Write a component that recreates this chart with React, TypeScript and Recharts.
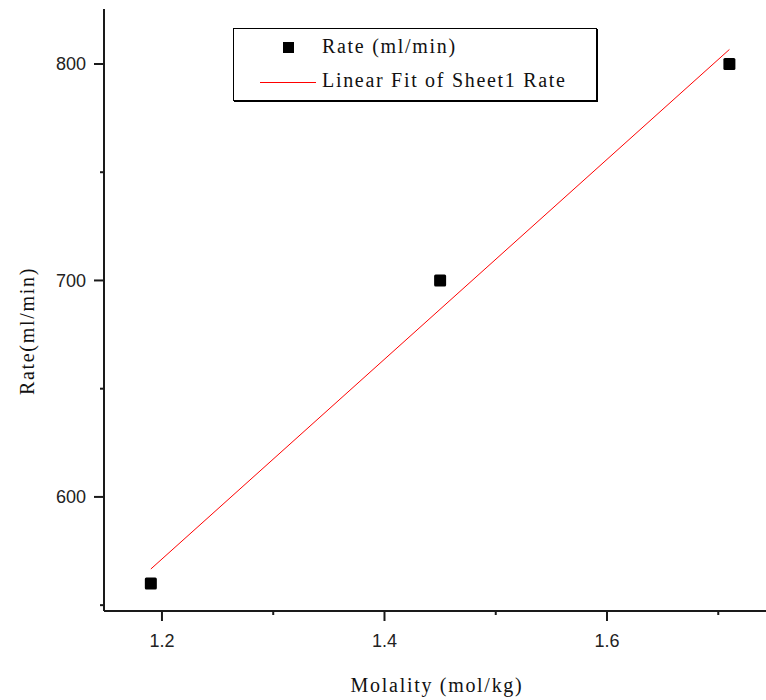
import React from "react";
import { ScatterChart, Scatter, XAxis, YAxis } from "recharts";

const molality = [1.19, 1.45, 1.71];
const rate = [560, 700, 800];

// fitted line end points
const fitX = [1.19, 1.71];
const fitY = [566.7, 806.7];

const xTicks = [1.2, 1.3, 1.4, 1.5, 1.6, 1.7];
const xMajor = [1.2, 1.4, 1.6];
const yTicks = [550, 600, 650, 700, 750, 800];
const yMajor = [600, 700, 800];

const points = molality.map((x, i) => ({ x, y: rate[i] }));
const fit = fitX.map((x, i) => ({ x, y: fitY[i] }));

const AXIS = "#1a1a1a";
const SERIF = "'Liberation Serif', 'Times New Roman', serif";
const SANS = "'Liberation Sans', Arial, sans-serif";
const SPACING = 1.7;

const XTick = (props: any) => {
  const { x, y, payload } = props;
  const major = xMajor.includes(payload.value);
  return (
    <g>
      <line x1={x} x2={x} y1={y} y2={y + (major ? 10 : 4)} stroke={AXIS} strokeWidth={2} />
      {major && (
        <text x={x} y={y + 36} textAnchor="middle" fontFamily={SANS} fontSize={18} fill="#222">
          {payload.value.toFixed(1)}
        </text>
      )}
    </g>
  );
};

const YTick = (props: any) => {
  const { x, y, payload } = props;
  const major = yMajor.includes(payload.value);
  return (
    <g>
      <line x1={x} x2={x - (major ? 10 : 4)} y1={y} y2={y} stroke={AXIS} strokeWidth={2} />
      {major && (
        <text x={x - 18} y={y} dy="0.35em" textAnchor="end" fontFamily={SANS} fontSize={18} fill="#222">
          {payload.value}
        </text>
      )}
    </g>
  );
};

const Square = (props: any) => {
  const { cx, cy } = props;
  return <rect x={cx - 6} y={cy - 6} width={12} height={12} rx={1.5} fill="#000" />;
};

const Nothing = () => <g />;

export default function App() {
  return (
    <div style={{ position: "absolute", left: 0, top: 0, width: 766, height: 700, background: "#fff" }}>
      <ScatterChart width={766} height={700} margin={{ top: 9, right: 0, bottom: 0, left: 0 }}>
        <XAxis
          type="number"
          dataKey="x"
          domain={[1.1479, 1.7429]}
          ticks={xTicks}
          interval={0}
          tickSize={0}
          tickMargin={0}
          tick={<XTick />}
          height={89}
          allowDataOverflow
          axisLine={{ stroke: AXIS, strokeWidth: 2 }}
          label={{
            content: () => (
              <text
                x={437}
                y={692}
                textAnchor="middle"
                fontFamily={SERIF}
                fontSize={20}
                letterSpacing={SPACING}
                fill="#111"
              >
                Molality (mol/kg)
              </text>
            ),
          }}
        />
        <YAxis
          type="number"
          dataKey="y"
          domain={[547.3, 825.4]}
          ticks={yTicks}
          interval={0}
          tickSize={0}
          tickMargin={0}
          tick={<YTick />}
          width={104}
          allowDataOverflow
          axisLine={{ stroke: AXIS, strokeWidth: 2 }}
          label={{
            content: () => (
              <text
                x={27}
                y={331}
                transform="rotate(-90 27 331)"
                textAnchor="middle"
                dy="0.35em"
                fontFamily={SERIF}
                fontSize={20}
                letterSpacing={SPACING}
                fill="#111"
              >
                Rate(ml/min)
              </text>
            ),
          }}
        />
        <Scatter
          data={fit}
          line={{ stroke: "#ff0000", strokeWidth: 1 }}
          shape={<Nothing />}
          isAnimationActive={false}
        />
        <Scatter data={points} shape={<Square />} isAnimationActive={false} />
      </ScatterChart>
      <div
        style={{
          position: "absolute",
          left: 233,
          top: 28,
          width: 362,
          height: 71,
          border: "1px solid #000",
          boxShadow: "1px 1px 0 #000",
          fontFamily: SERIF,
          fontSize: 20,
          letterSpacing: SPACING,
          color: "#111",
        }}
      >
        <div style={{ position: "absolute", left: 49, top: 13, width: 11, height: 11, background: "#000" }} />
        <div style={{ position: "absolute", left: 88, top: 6, whiteSpace: "nowrap" }}>Rate (ml/min)</div>
        <div style={{ position: "absolute", left: 26, top: 53, width: 56, height: 1, background: "#ff0000" }} />
        <div style={{ position: "absolute", left: 88, top: 40, whiteSpace: "nowrap" }}>Linear Fit of Sheet1 Rate</div>
      </div>
    </div>
  );
}
